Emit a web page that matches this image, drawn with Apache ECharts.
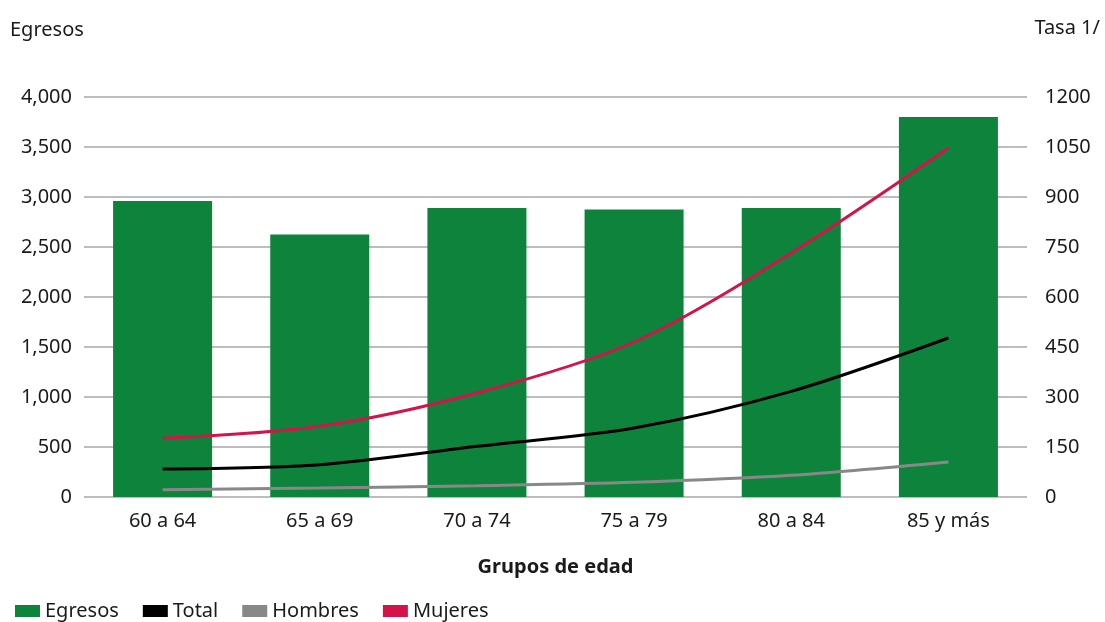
<!DOCTYPE html>
<html><head><meta charset="utf-8">
<script src="https://cdn.jsdelivr.net/npm/echarts@6/dist/echarts.min.js"></script>
<style>html,body{margin:0;padding:0;background:#fff}#c{width:1105px;height:622px}</style>
</head><body><div id="c"></div>
<script>
const categories = ['60 a 64','65 a 69','70 a 74','75 a 79','80 a 84','85 y más'];
const egresos = [2960, 2625, 2890, 2875, 2890, 3800];
const total = [84, 97, 152, 207, 317, 477];
const hombres = [22, 27, 34, 44, 65, 105];
const mujeres = [176, 212, 312, 465, 732, 1047];
const leftTicks = [0, 4000, 500];
const rightTicks = [0, 1200, 150];

const font = 'Noto Sans';
const col = '#1a1a1a';
const chart = echarts.init(document.getElementById('c'));
chart.setOption({
  animation: false,
  textStyle: {fontFamily: font},
  grid: {left: 84, right: 78, top: 97, bottom: 125},
  legend: {
    left: 10, top: 596, itemWidth: 25, itemHeight: 12, itemGap: 24,
    textStyle: {fontSize: 20, color: col, fontFamily: font},
    data: [
      {name: 'Egresos', icon: 'rect'},
      {name: 'Total', icon: 'rect'},
      {name: 'Hombres', icon: 'rect'},
      {name: 'Mujeres', icon: 'rect'}
    ]
  },
  xAxis: {
    type: 'category', data: categories,
    name: 'Grupos de edad', nameLocation: 'middle', nameGap: 60,
    nameTextStyle: {fontSize: 20, fontWeight: 'bold', color: col},
    axisLine: {show: false}, axisTick: {show: false},
    axisLabel: {fontSize: 20, color: col, margin: 14}
  },
  yAxis: [{
    type: 'value', min: leftTicks[0], max: leftTicks[1], interval: leftTicks[2],
    name: 'Egresos', nameLocation: 'end', nameGap: 57,
    nameTextStyle: {fontSize: 20, color: col, align: 'left', padding: [0, 0, 0, -74]},
    axisLine: {show: false}, axisTick: {show: false},
    axisLabel: {fontSize: 20, color: col, margin: 12,
      formatter: v => v.toLocaleString('en-US')},
    splitLine: {lineStyle: {color: '#bdbdbd', width: 2}}
  }, {
    type: 'value', min: rightTicks[0], max: rightTicks[1], interval: rightTicks[2],
    name: 'Tasa 1/', nameLocation: 'end', nameGap: 59,
    nameTextStyle: {fontSize: 20, color: col, align: 'right', padding: [0, -73, 0, 0]},
    axisLine: {show: false}, axisTick: {show: false},
    axisLabel: {fontSize: 20, color: col, margin: 18, formatter: v => String(v)},
    splitLine: {show: false}
  }],
  series: [
    {name: 'Egresos', type: 'bar', data: egresos, barWidth: '63%',
      itemStyle: {color: '#0e833c'}},
    {name: 'Total', type: 'line', yAxisIndex: 1, data: total, smooth: 0.3,
      symbol: 'none', lineStyle: {color: '#000', width: 3}, itemStyle: {color: '#000'}},
    {name: 'Hombres', type: 'line', yAxisIndex: 1, data: hombres, smooth: 0.3,
      symbol: 'none', lineStyle: {color: '#888888', width: 3}, itemStyle: {color: '#888888'}},
    {name: 'Mujeres', type: 'line', yAxisIndex: 1, data: mujeres, smooth: 0.3,
      symbol: 'none', lineStyle: {color: '#d4134a', width: 3}, itemStyle: {color: '#d4134a'}}
  ]
});
</script></body></html>
